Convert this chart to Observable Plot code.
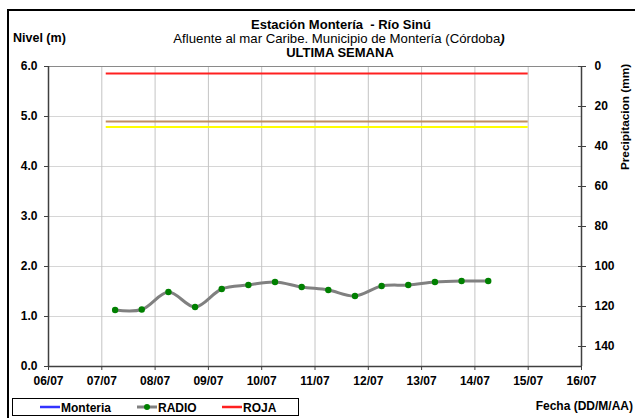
<!DOCTYPE html>
<html><head><meta charset="utf-8">
<script src="https://cdn.jsdelivr.net/npm/d3@7"></script>
<script src="https://cdn.jsdelivr.net/npm/@observablehq/plot@0.6"></script>
<style>
body{margin:0;background:#fff;}
#chart{width:635px;height:418px;overflow:hidden;}
</style></head><body><div id="chart"></div>
<script>
// ---- data ----
const radioTimes = ["2024-07-07T06:00Z","2024-07-07T18:00Z","2024-07-08T06:00Z","2024-07-08T18:00Z",
  "2024-07-09T06:00Z","2024-07-09T18:00Z","2024-07-10T06:00Z","2024-07-10T18:00Z","2024-07-11T06:00Z",
  "2024-07-11T18:00Z","2024-07-12T06:00Z","2024-07-12T18:00Z","2024-07-13T06:00Z","2024-07-13T18:00Z",
  "2024-07-14T06:00Z"];
const radioLevels = [1.13, 1.14, 1.49, 1.19, 1.55, 1.63, 1.69, 1.59, 1.53, 1.41, 1.61, 1.63, 1.69, 1.71, 1.71];
const thresholdNames = ["ROJA", "NARANJA", "AMARILLA"];
const thresholdLevels = [5.86, 4.90, 4.79];
const thresholdColors = ["#ff2020", "#bf8f63", "#ffff00"];
const thresholdStart = "2024-07-07T02:00Z";
const thresholdEnd = "2024-07-15T00:00Z";
const dayTicks = ["2024-07-06","2024-07-07","2024-07-08","2024-07-09","2024-07-10","2024-07-11",
  "2024-07-12","2024-07-13","2024-07-14","2024-07-15","2024-07-16"];
const levelTicks = [0, 1, 2, 3, 4, 5, 6];
const precipTicks = [0, 20, 40, 60, 80, 100, 120, 140];
const precipMax = 150;
const levelMax = 6;
const legendLabels = ["Monteria", "RADIO", "ROJA"];
const legendColors = ["#3333ff", "#808080", "#ff2020"];

// ---- build ----
const days = dayTicks.map(d => new Date(d + "T00:00Z"));
const radio = radioTimes.map((t, i) => ({t: new Date(t), v: radioLevels[i]}));
const thresholds = thresholdNames.map((n, i) => ({name: n, v: thresholdLevels[i], c: thresholdColors[i],
  x1: new Date(thresholdStart), x2: new Date(thresholdEnd)}));
const toLevel = p => levelMax - p * levelMax / precipMax;
const precipAsLevel = precipTicks.map(toLevel);
const font = "'Liberation Sans', Arial, sans-serif";

const svg = Plot.plot({
  width: 635, height: 418,
  marginLeft: 48, marginRight: 54, marginTop: 66, marginBottom: 52,
  style: {fontFamily: font, fontSize: "12px", fontWeight: "bold", color: "#000", background: "#fff", overflow: "visible"},
  x: {type: "utc", domain: [days[0], days[days.length - 1]]},
  y: {domain: [0, levelMax]},
  color: {type: "identity"},
  marks: [
    Plot.gridY(levelTicks, {stroke: "#d6d6d6", strokeOpacity: 1}),
    Plot.gridX(days, {stroke: "#c4c4c4", strokeOpacity: 1}),
    Plot.ruleY(thresholds, {y: "v", x1: "x1", x2: "x2", stroke: "c", strokeWidth: 2}),
    Plot.line(radio, {x: "t", y: "v", stroke: "#808080", strokeWidth: 3, curve: "catmull-rom"}),
    Plot.dot(radio, {x: "t", y: "v", fill: "#008000", r: 3.2}),
    Plot.ruleY([levelMax], {stroke: "#8a8a8a"}),
    Plot.ruleX([days[0]], {stroke: "#404040", strokeWidth: 1.5}),
    Plot.ruleX([days[days.length - 1]], {stroke: "#404040", strokeWidth: 1.5}),
    Plot.ruleY([0], {stroke: "#404040", strokeWidth: 1.5}),
    Plot.axisY(levelTicks, {anchor: "left", tickFormat: d => d.toFixed(1), tickSize: 4, tickPadding: 7, label: null, stroke: "#404040"}),
    Plot.axisY(precipAsLevel, {anchor: "right", tickSize: 8, dx: -4, tickFormat: () => "", label: null, stroke: "#404040"}),
    Plot.axisY(precipAsLevel, {anchor: "right", tickSize: 0, tickPadding: 13, label: null,
      tickFormat: (d, i) => String(precipTicks[i])}),
    Plot.axisX(days, {anchor: "bottom", tickFormat: d3.utcFormat("%d/%m"), tickSize: 4, tickPadding: 6, label: null, stroke: "#404040"})
  ]
});
document.getElementById("chart").appendChild(svg);

// ---- texts, frame and legend ----
const s = d3.select(svg);
s.append("path").attr("d", "M8,418V10H635").attr("fill", "none").attr("stroke", "#000").attr("stroke-width", 2);
const txt = (x, y, t, o = {}) => s.append("text").attr("x", x).attr("y", y).attr("font-family", font)
  .attr("font-size", o.size || 12).attr("font-weight", o.weight || "bold").attr("text-anchor", o.anchor || "middle")
  .attr("fill", "#000").text(t);
txt(341, 29, "Estación Montería  - Río Sinú", {size: 13});
const sub = txt(339, 42.5, "Afluente al mar Caribe. Municipio de Montería (Córdoba", {weight: "normal", size: 13.2});
sub.append("tspan").attr("font-weight", "bold").attr("font-style", "italic").text(")");
txt(340, 57, "ULTIMA SEMANA", {size: 13});
txt(13, 42, "Nivel (m)", {anchor: "start", size: 12.5});
txt(633, 410, "Fecha (DD/M/AA)", {anchor: "end"});
s.append("text").attr("transform", "translate(629,117) rotate(-90)").attr("text-anchor", "middle")
  .attr("font-family", font).attr("font-size", 11.8).attr("font-weight", "bold").text("Precipitacion (mm)");

const lg = s.append("g");
lg.append("rect").attr("x", 12.5).attr("y", 398.5).attr("width", 286).attr("height", 17)
  .attr("fill", "#fff").attr("stroke", "#000");
const lx = [40, 137, 222];
legendLabels.forEach((l, i) => {
  lg.append("line").attr("x1", lx[i]).attr("x2", lx[i] + 20).attr("y1", 407).attr("y2", 407)
    .attr("stroke", legendColors[i]).attr("stroke-width", i === 1 ? 3 : 2.5);
  if (i === 1) lg.append("circle").attr("cx", lx[i] + 10).attr("cy", 407).attr("r", 3).attr("fill", "#008000");
  lg.append("text").attr("x", lx[i] + 21).attr("y", 411.5).attr("font-family", font).attr("font-size", 12)
    .attr("font-weight", "bold").attr("text-anchor", "start").text(l);
});
</script></body></html>
